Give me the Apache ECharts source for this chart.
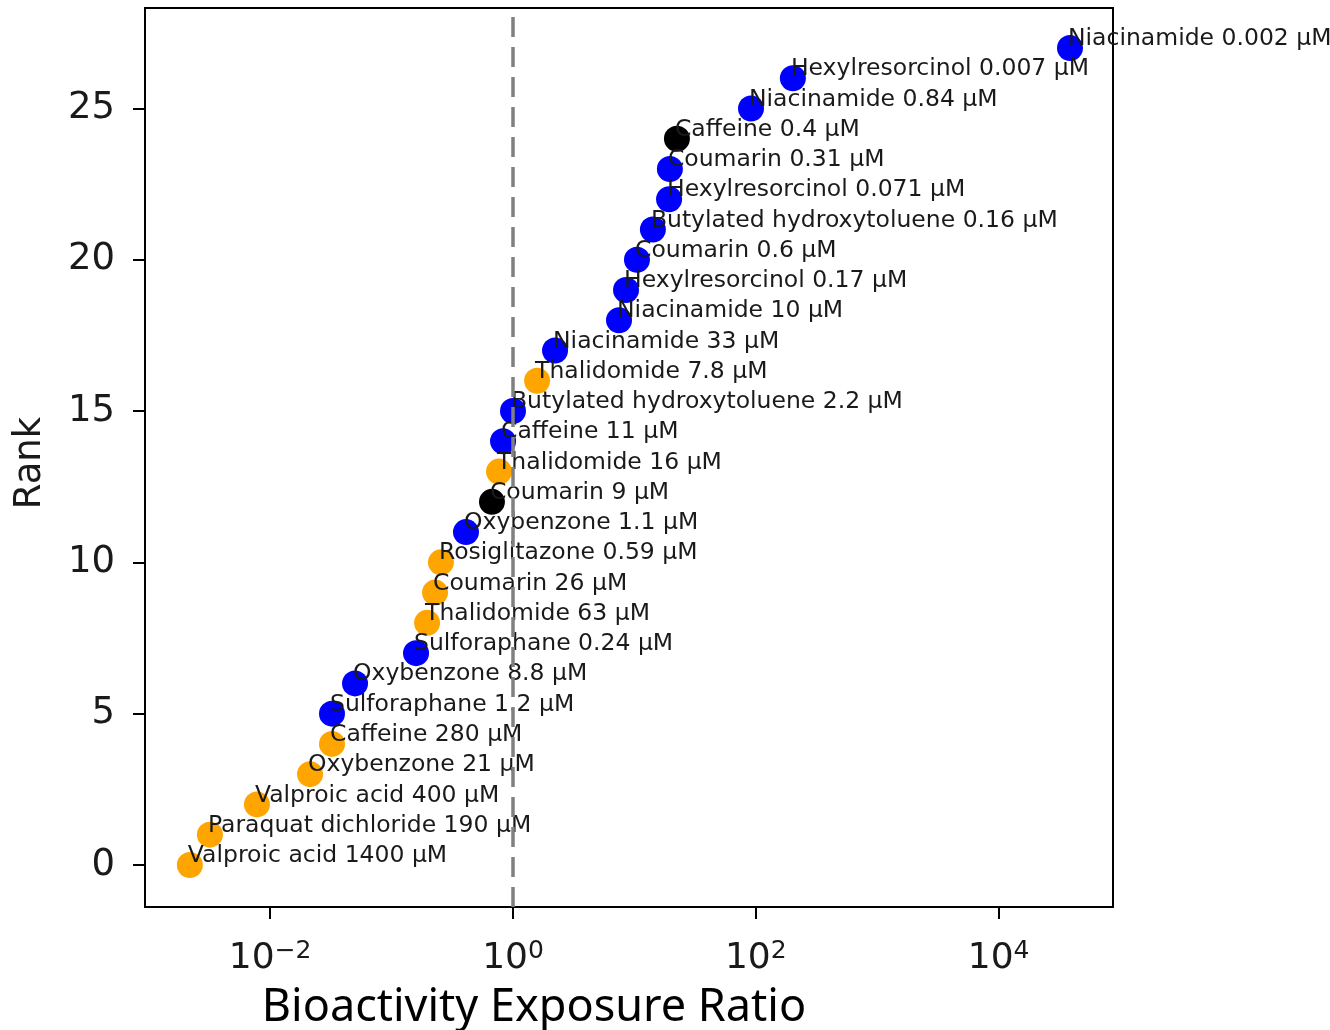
<!DOCTYPE html>
<html>
<head>
<meta charset="utf-8">
<script src="https://cdn.jsdelivr.net/npm/echarts@6/dist/echarts.min.js"></script>
<style>html,body{margin:0;padding:0;background:#fff;}#chart{width:1330px;height:1030px;}</style>
</head>
<body>
<div id="chart"></div>
<script>
// ---- data ----
const ranks = [0,1,2,3,4,5,6,7,8,9,10,11,12,13,14,15,16,17,18,19,20,21,22,23,24,25,26,27];
const ratios = [0.00218,0.00319,0.00778,0.0213,0.0323,0.0323,0.050,0.159,0.196,0.228,0.255,0.410,0.671,0.767,0.828,1.0,1.58,2.22,7.47,8.53,10.5,14.2,19.3,19.6,22.4,91.3,202,38700];
const labels = [
  'Valproic acid 1400 µM','Paraquat dichloride 190 µM','Valproic acid 400 µM','Oxybenzone 21 µM',
  'Caffeine 280 µM','Sulforaphane 1.2 µM','Oxybenzone 8.8 µM','Sulforaphane 0.24 µM',
  'Thalidomide 63 µM','Coumarin 26 µM','Rosiglitazone 0.59 µM','Oxybenzone 1.1 µM',
  'Coumarin 9 µM','Thalidomide 16 µM','Caffeine 11 µM','Butylated hydroxytoluene 2.2 µM',
  'Thalidomide 7.8 µM','Niacinamide 33 µM','Niacinamide 10 µM','Hexylresorcinol 0.17 µM',
  'Coumarin 0.6 µM','Butylated hydroxytoluene 0.16 µM','Hexylresorcinol 0.071 µM','Coumarin 0.31 µM',
  'Caffeine 0.4 µM','Niacinamide 0.84 µM','Hexylresorcinol 0.007 µM','Niacinamide 0.002 µM'
];
// group: 0 = orange, 1 = blue, 2 = black
const groups = [0,0,0,0,0,1,1,1,0,0,0,1,2,0,1,1,0,1,1,1,1,1,1,1,2,1,1,1];
const xTicks = [0.01, 1, 100, 10000];
const yTicks = [0, 5, 10, 15, 20, 25];
const refLine = 1;
const xTitle = 'Bioactivity Exposure Ratio';
const yTitle = 'Rank';

// ---- style ----
const groupColors = ['#ffa500', '#0000ff', '#000000'];
const X_MIN_EXP = -3.031, X_MAX_EXP = 4.942;
const Y_MIN = -1.39, Y_MAX = 28.32;

const chart = echarts.init(document.getElementById('chart'), null, {renderer: 'canvas'});

const seriesData = ranks.map((r, i) => ({
  value: [ratios[i], r],
  name: labels[i],
  itemStyle: {color: groupColors[groups[i]], opacity: 1}
}));

function supLabel(v) {
  const e = Math.round(Math.log10(v));
  return '{b|10}{s|' + (e < 0 ? '\u2212' + (-e) : String(e)) + '}';
}

chart.setOption({
  animation: false,
  backgroundColor: '#fff',
  grid: {left: 145, right: 217, top: 8, bottom: 123, show: true, borderColor: '#000', borderWidth: 2, backgroundColor: 'transparent', containLabel: false},
  xAxis: {
    type: 'log', logBase: 10,
    min: Math.pow(10, X_MIN_EXP), max: Math.pow(10, X_MAX_EXP),
    axisLine: {show: true, onZero: false, lineStyle: {color: '#000', width: 2}},
    axisTick: {show: true, length: 12, lineStyle: {color: '#000', width: 2}, customValues: xTicks},
    minorTick: {show: false},
    splitLine: {show: false},
    axisLabel: {
      show: true, margin: 32, customValues: xTicks,
      formatter: supLabel,
      rich: {
        b: {fontSize: 36, fontFamily: 'DejaVu Sans', color: '#1a1a1a', lineHeight: 40},
        s: {fontSize: 25, fontFamily: 'DejaVu Sans', color: '#1a1a1a', lineHeight: 24, verticalAlign: 'top'}
      }
    }
  },
  yAxis: {
    type: 'value', min: Y_MIN, max: Y_MAX,
    axisLine: {show: true, onZero: false, lineStyle: {color: '#000', width: 2}},
    axisTick: {show: true, length: 12, lineStyle: {color: '#000', width: 2}, customValues: yTicks},
    splitLine: {show: false},
    axisLabel: {show: true, margin: 30, customValues: yTicks, fontSize: 37, fontFamily: 'DejaVu Sans', color: '#1a1a1a'}
  },
  series: [{
    type: 'scatter',
    symbol: 'circle',
    symbolSize: 26,
    data: seriesData,
    label: {
      show: true,
      position: 'inside',
      align: 'left',
      verticalAlign: 'bottom',
      offset: [-2, 3],
      formatter: p => p.name,
      fontSize: 23.5,
      fontFamily: 'DejaVu Sans',
      color: '#1a1a1a'
    },
    emphasis: {disabled: true},
    markLine: {
      silent: true,
      symbol: ['none', 'none'],
      label: {show: false},
      lineStyle: {color: '#808080', width: 3.5, type: [20, 10]},
      data: [{xAxis: refLine}],
      z: 10
    }
  }],
  graphic: [
    {type: 'text', x: 30, y: 463, rotation: Math.PI / 2,
      style: {text: yTitle, fontSize: 37, fontFamily: 'DejaVu Sans', fill: '#1a1a1a', align: 'center', verticalAlign: 'middle'}},
    {type: 'text', x: 534, y: 1008,
      style: {text: xTitle, fontSize: 45, fontFamily: 'Noto Sans', fill: '#000', align: 'center', verticalAlign: 'middle'}}
  ]
});
</script>
</body>
</html>
